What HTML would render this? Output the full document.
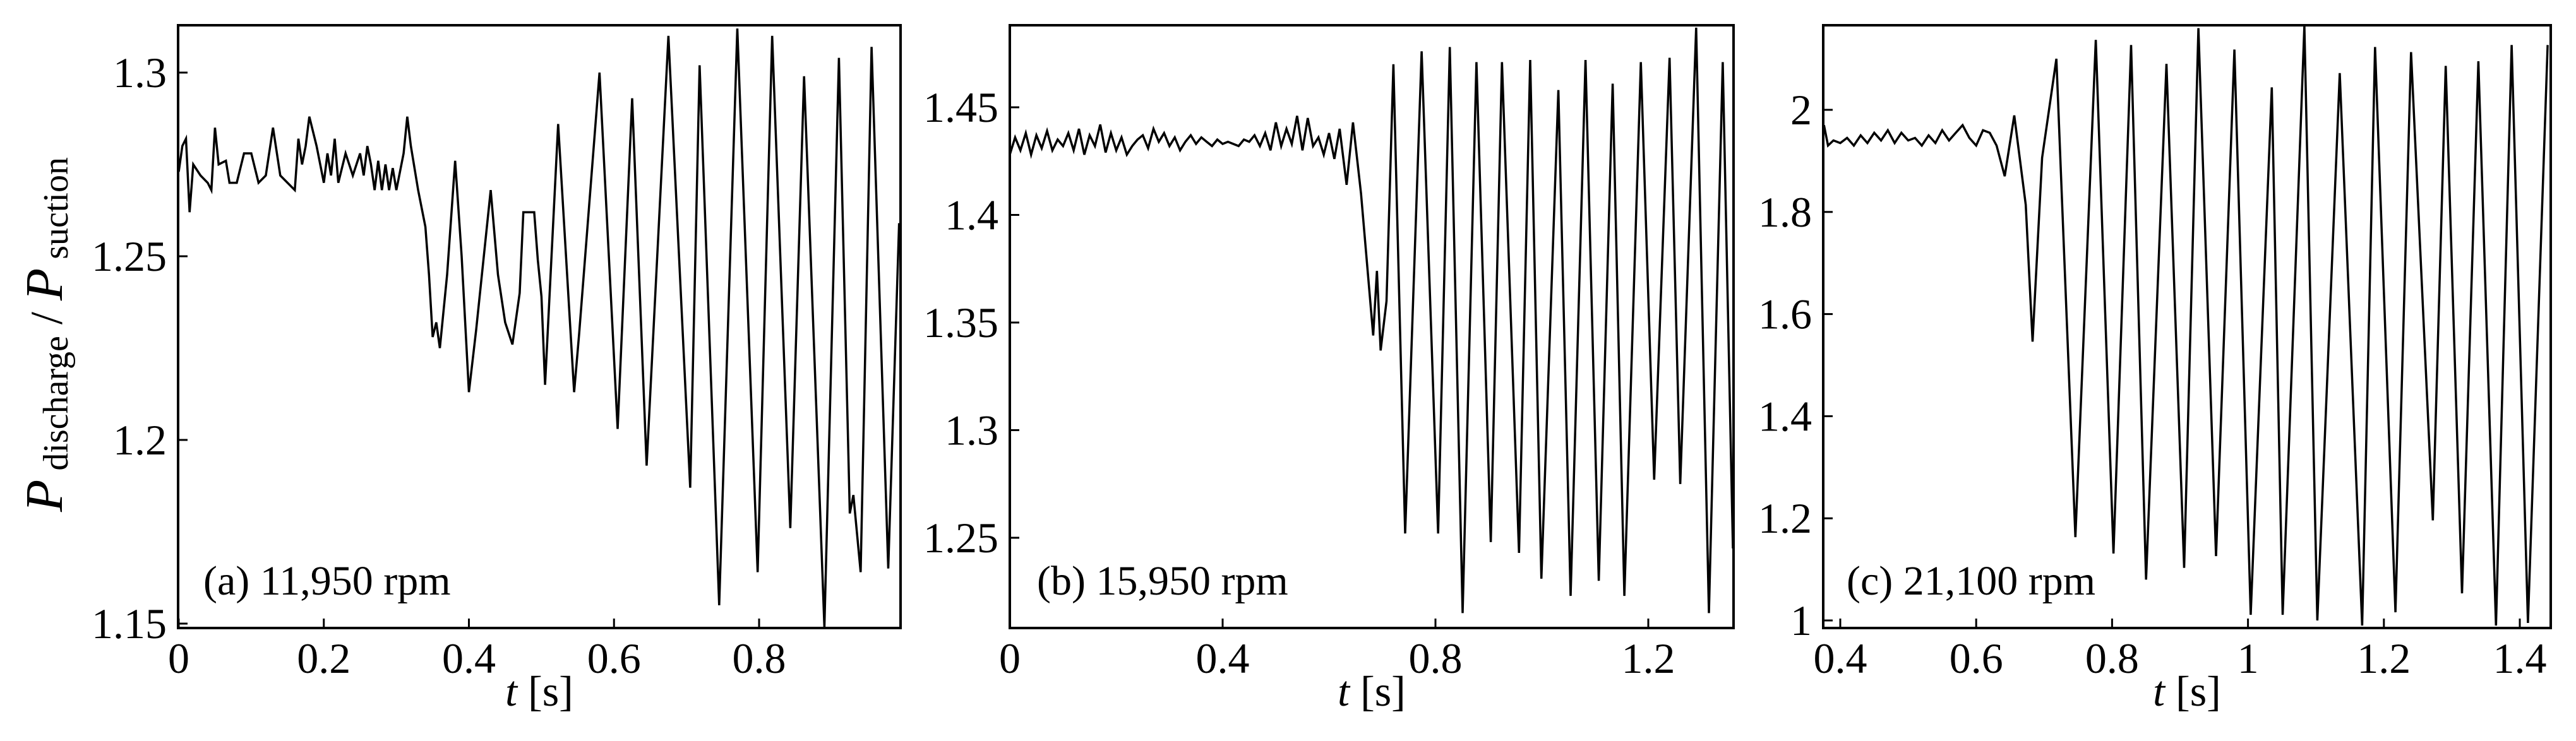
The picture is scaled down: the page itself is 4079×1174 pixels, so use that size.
<!DOCTYPE html>
<html><head><meta charset="utf-8"><style>
html,body{margin:0;padding:0;background:#fff}
svg{display:block}
text{font-family:"Liberation Serif",serif;fill:#000}
</style></head><body>
<svg id="fig" width="4079" height="1174" viewBox="0 0 4079 1174" xmlns="http://www.w3.org/2000/svg">
<rect width="4079" height="1174" fill="#fff"/>
<text transform="translate(98,530) rotate(-90)" text-anchor="middle"><tspan font-style="italic" font-size="84">P</tspan><tspan font-size="56" dy="9"> discharge</tspan><tspan font-size="72" dy="-9"> / </tspan><tspan font-style="italic" font-size="84">P</tspan><tspan font-size="56" dy="9"> suction</tspan></text>
</svg>
<script>
// ---- Panel (a) 11,950 rpm ----
const tA = [0,0.005,0.01,0.015,0.02,0.03,0.04,0.045,0.05,0.055,0.065,0.07,0.08,0.09,0.1,0.11,0.12,0.13,0.14,0.15,0.16,0.165,0.17,0.175,0.18,0.19,0.2,0.205,0.21,0.215,0.22,0.23,0.24,0.25,0.255,0.26,0.265,0.27,0.275,0.28,0.285,0.29,0.295,0.3,0.31,0.315,0.32,0.33,0.34,0.345,0.35,0.355,0.36,0.37,0.381,0.39,0.4,0.41,0.43,0.44,0.45,0.46,0.47,0.475,0.49,0.495,0.5,0.505,0.523,0.545,0.552,0.58,0.605,0.625,0.645,0.675,0.705,0.718,0.745,0.77,0.798,0.818,0.843,0.862,0.89,0.91,0.925,0.93,0.94,0.955,0.978,0.993];
const vA = [1.273,1.28,1.282,1.262,1.275,1.272,1.27,1.268,1.285,1.275,1.276,1.27,1.27,1.278,1.278,1.27,1.272,1.285,1.272,1.27,1.268,1.282,1.275,1.28,1.288,1.28,1.27,1.278,1.272,1.282,1.27,1.278,1.272,1.278,1.272,1.28,1.275,1.268,1.276,1.268,1.275,1.268,1.274,1.268,1.278,1.288,1.28,1.268,1.258,1.245,1.228,1.232,1.225,1.245,1.276,1.25,1.213,1.23,1.268,1.245,1.232,1.226,1.24,1.262,1.262,1.249,1.239,1.215,1.286,1.213,1.229,1.3,1.203,1.293,1.193,1.31,1.187,1.302,1.155,1.312,1.164,1.31,1.176,1.299,1.149,1.304,1.18,1.185,1.164,1.307,1.165,1.259];
const ticksAx = [0,0.2,0.4,0.6,0.8];
const ticksAxLbl = ["0","0.2","0.4","0.6","0.8"];
const ticksAy = [1.15,1.2,1.25,1.3];
const ticksAyLbl = ["1.15","1.2","1.25","1.3"];

// ---- Panel (b) 15,950 rpm ----
const tB = [0,0.01,0.02,0.03,0.04,0.05,0.06,0.07,0.08,0.09,0.1,0.11,0.12,0.13,0.14,0.15,0.16,0.17,0.18,0.19,0.2,0.21,0.22,0.23,0.24,0.25,0.26,0.27,0.28,0.29,0.3,0.31,0.32,0.33,0.34,0.35,0.36,0.37,0.38,0.39,0.4,0.41,0.42,0.43,0.44,0.45,0.46,0.47,0.48,0.49,0.5,0.51,0.52,0.53,0.54,0.55,0.56,0.57,0.58,0.59,0.6,0.61,0.62,0.633,0.645,0.66,0.683,0.69,0.697,0.708,0.721,0.743,0.774,0.805,0.827,0.851,0.877,0.904,0.925,0.957,0.978,0.999,1.031,1.054,1.082,1.107,1.133,1.155,1.186,1.211,1.24,1.26,1.29,1.314,1.34,1.359];
const vB = [1.428,1.436,1.43,1.438,1.428,1.437,1.431,1.439,1.43,1.435,1.432,1.438,1.43,1.44,1.428,1.437,1.432,1.442,1.429,1.438,1.43,1.436,1.428,1.432,1.435,1.437,1.431,1.44,1.434,1.438,1.432,1.436,1.43,1.434,1.437,1.433,1.436,1.434,1.432,1.435,1.433,1.434,1.433,1.432,1.435,1.434,1.437,1.432,1.438,1.43,1.443,1.432,1.44,1.433,1.446,1.43,1.445,1.432,1.436,1.428,1.438,1.426,1.44,1.414,1.443,1.41,1.344,1.374,1.337,1.36,1.47,1.252,1.476,1.252,1.478,1.215,1.471,1.248,1.471,1.243,1.472,1.231,1.458,1.223,1.472,1.23,1.461,1.223,1.471,1.277,1.473,1.275,1.487,1.215,1.471,1.245];
const ticksBx = [0,0.4,0.8,1.2];
const ticksBxLbl = ["0","0.4","0.8","1.2"];
const ticksBy = [1.25,1.3,1.35,1.4,1.45];
const ticksByLbl = ["1.25","1.3","1.35","1.4","1.45"];

// ---- Panel (c) 21,100 rpm ----
const tC = [0.376,0.382,0.39,0.4,0.41,0.42,0.43,0.44,0.45,0.46,0.47,0.48,0.49,0.5,0.51,0.52,0.53,0.54,0.55,0.56,0.57,0.58,0.59,0.6,0.61,0.62,0.63,0.642,0.656,0.673,0.683,0.697,0.718,0.746,0.776,0.802,0.828,0.85,0.88,0.906,0.927,0.953,0.98,1.004,1.035,1.051,1.083,1.102,1.135,1.168,1.187,1.217,1.24,1.272,1.291,1.315,1.339,1.365,1.388,1.412,1.441];
const vC = [1.97,1.93,1.94,1.935,1.945,1.93,1.95,1.935,1.955,1.94,1.96,1.935,1.955,1.94,1.945,1.93,1.95,1.935,1.96,1.94,1.955,1.97,1.945,1.93,1.96,1.955,1.93,1.87,1.989,1.814,1.546,1.906,2.1,1.163,2.137,1.131,2.127,1.08,2.09,1.103,2.16,1.126,2.118,1.011,2.044,1.011,2.164,1.0,2.072,0.99,2.123,1.016,2.113,1.196,2.086,1.053,2.095,0.99,2.127,0.995,2.127];
const ticksCx = [0.4,0.6,0.8,1,1.2,1.4];
const ticksCxLbl = ["0.4","0.6","0.8","1","1.2","1.4"];
const ticksCy = [1,1.2,1.4,1.6,1.8,2];
const ticksCyLbl = ["1","1.2","1.4","1.6","1.8","2"];

const NS = "http://www.w3.org/2000/svg";
const svg = document.getElementById("fig");
function mk(tag, attrs, parent){const e=document.createElementNS(NS,tag);for(const k in attrs)e.setAttribute(k,attrs[k]);(parent||svg).appendChild(e);return e;}

const panels = [
 {id:"a", box:[282,40,1426,995], x0:[0,283], x1:[0.8,1202], y0:[1.3,115], y1:[1.15,988], t:tA, v:vA, tx:ticksAx, txl:ticksAxLbl, ty:ticksAy, tyl:ticksAyLbl, label:"(a) 11,950 rpm", lx:322},
 {id:"b", box:[1599,40,2745,995], x0:[0,1599], x1:[1.2,2610], y0:[1.45,170], y1:[1.25,852], t:tB, v:vB, tx:ticksBx, txl:ticksBxLbl, ty:ticksBy, tyl:ticksByLbl, label:"(b) 15,950 rpm", lx:1642},
 {id:"c", box:[2887,40,4039,995], x0:[0.4,2914], x1:[1.4,3990], y0:[2,174], y1:[1,983], t:tC, v:vC, tx:ticksCx, txl:ticksCxLbl, ty:ticksCy, tyl:ticksCyLbl, label:"(c) 21,100 rpm", lx:2924}
];

panels.forEach(p=>{
  const sx = t => p.x0[1] + (t-p.x0[0])*(p.x1[1]-p.x0[1])/(p.x1[0]-p.x0[0]);
  const sy = v => p.y0[1] + (v-p.y0[0])*(p.y1[1]-p.y0[1])/(p.y1[0]-p.y0[0]);
  const [L,T,R,B] = p.box;
  const g = mk("g",{});
  
  
  const cid = "clip-"+p.id;
  const cp = mk("clipPath",{id:cid},g);
  mk("rect",{x:L,y:T,width:R-L,height:B-T},cp);
  const d = p.t.map((t,i)=>(i?"L":"M")+sx(t).toFixed(1)+","+sy(p.v[i]).toFixed(1)).join(" ");
  const line = mk("path",{d:d,fill:"none",stroke:"#000","stroke-width":3.5,"stroke-linejoin":"miter","clip-path":"url(#"+cid+")"},g);
  
  
  const box = mk("rect",{x:L,y:T,width:R-L,height:B-T,fill:"none",stroke:"#000","stroke-width":4},g);
  
  
  p.tx.forEach((t,i)=>{
    const x=sx(t);
    const tk=mk("line",{x1:x,y1:B,x2:x,y2:B-15,stroke:"#000","stroke-width":3},g);
    
    
    const lb=mk("text",{x:x,y:1066,"text-anchor":"middle","font-size":68},g);
    lb.textContent=p.txl[i];
    
    
  });
  p.ty.forEach((v,i)=>{
    const y=sy(v);
    const tk=mk("line",{x1:L,y1:y,x2:L+15,y2:y,stroke:"#000","stroke-width":3},g);
    
    
    const lb=mk("text",{x:L-18,y:y+23,"text-anchor":"end","font-size":68},g);
    lb.textContent=p.tyl[i];
    
    
  });
  const xt=mk("text",{x:(L+R)/2,y:1118,"text-anchor":"middle","font-size":68},g);
  xt.innerHTML='<tspan font-style="italic">t</tspan> [s]';
  
  
  const pl=mk("text",{x:p.lx,y:942,"font-size":66},g);
  pl.textContent=p.label;
  
  
});
</script>
</body></html>
